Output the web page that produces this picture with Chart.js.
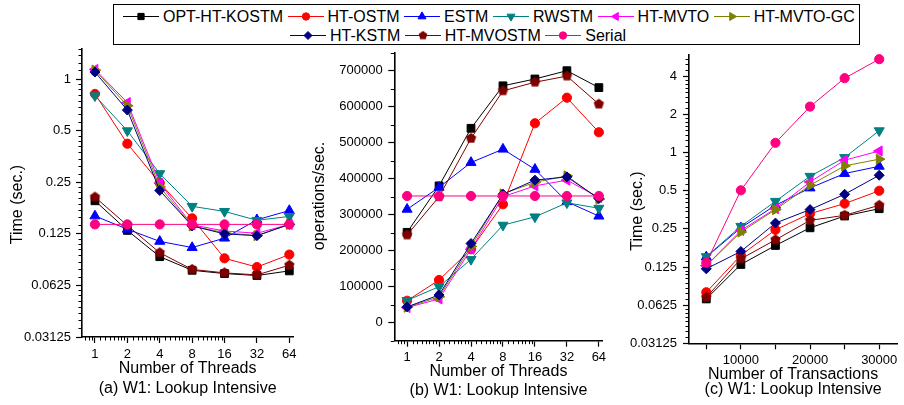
<!DOCTYPE html>
<html><head><meta charset="utf-8">
<script src="https://cdn.jsdelivr.net/npm/chart.js@4/dist/chart.umd.min.js"></script>
<style>
html,body{margin:0;padding:0;background:#fff;}
#wrap{position:relative;width:904px;height:405px;overflow:hidden;font-family:"Liberation Sans",Arial,sans-serif;}
#wrap canvas.c{position:absolute;top:0;}
#legend{position:absolute;left:113px;top:4px;width:745px;height:39px;border:1px solid #000;background:#fff;z-index:2;}
.row{position:absolute;display:flex;align-items:center;height:19px;white-space:nowrap;}
.item{display:flex;align-items:center;margin-right:4.5px;font-size:16px;color:#000;line-height:19px;}
.item canvas{margin-right:4px;display:block;}
</style></head><body>
<div id="wrap">
<canvas id="ca" class="c" width="300" height="405" style="left:0px"></canvas>
<canvas id="cb" class="c" width="310" height="405" style="left:300px"></canvas>
<canvas id="cc" class="c" width="294" height="405" style="left:610px"></canvas>
<div id="legend"><div class="row" id="row1" style="left:9px;top:1.5px"></div><div class="row" id="row2" style="left:176px;top:21px"></div></div>
</div>
<script>
// ---------- categories / tick labels ----------
const threads = [1, 2, 4, 8, 16, 32, 64];
const transactions = [5000, 10000, 15000, 20000, 25000, 30000];
const timeTicks = [0.03125, 0.0625, 0.125, 0.25, 0.5, 1];
const timeTicksC = [0.03125, 0.0625, 0.125, 0.25, 0.5, 1, 2, 4];
const opsTicks = [0, 100000, 200000, 300000, 400000, 500000, 600000, 700000];
const txnTicks = [5000, 10000, 15000, 20000, 25000, 30000];
const names = ['OPT-HT-KOSTM','HT-OSTM','ESTM','RWSTM','HT-MVTO','HT-MVTO-GC','HT-KSTM','HT-MVOSTM','Serial'];

// ---------- (a) time (sec.) vs threads ----------
const a_OPT    = [0.195, 0.131, 0.092, 0.0766, 0.0733, 0.0714, 0.076];
const a_OSTM   = [0.82, 0.42, 0.248, 0.154, 0.090, 0.080, 0.0946];
const a_ESTM   = [0.159, 0.133, 0.113, 0.104, 0.118, 0.151, 0.171];
const a_RWSTM  = [0.80, 0.50, 0.281, 0.181, 0.169, 0.150, 0.158];
const a_MVTO   = [1.14, 0.73, 0.247, 0.141, 0.130, 0.126, 0.142];
const a_MVTOGC = [1.13, 0.70, 0.235, 0.139, 0.127, 0.122, 0.142];
const a_KSTM   = [1.10, 0.66, 0.224, 0.139, 0.125, 0.122, 0.142];
const a_MVOSTM = [0.205, 0.140, 0.097, 0.0775, 0.074, 0.072, 0.082];
const a_Serial = [0.142, 0.142, 0.142, 0.142, 0.142, 0.142, 0.142];

// ---------- (b) operations/sec vs threads ----------
const b_OPT    = [251000, 380000, 540000, 658000, 677000, 700000, 653000];
const b_OSTM   = [61000, 118600, 204000, 329000, 554000, 625000, 529000];
const b_ESTM   = [315000, 376000, 445000, 482000, 426000, 336000, 296000];
const b_RWSTM  = [62000, 100000, 176000, 271000, 294000, 333000, 318000];
const b_MVTO   = [42000, 66000, 204000, 350000, 380000, 396000, 348000];
const b_MVTOGC = [43000, 72000, 212000, 358000, 390000, 408000, 343000];
const b_KSTM   = [44000, 77000, 220000, 357000, 396000, 405000, 345000];
const b_MVOSTM = [243600, 350000, 512000, 644000, 668000, 685000, 607000];
const b_Serial = [352000, 352000, 352000, 352000, 352000, 352000, 352000];

// ---------- (c) time (sec.) vs transactions ----------
const c_OPT    = [0.070, 0.131, 0.185, 0.255, 0.316, 0.361];
const c_OSTM   = [0.079, 0.155, 0.246, 0.330, 0.396, 0.500];
const c_ESTM   = [0.150, 0.255, 0.384, 0.526, 0.684, 0.780];
const c_RWSTM  = [0.151, 0.262, 0.413, 0.651, 0.916, 1.49];
const c_MVTO   = [0.128, 0.243, 0.361, 0.587, 0.872, 1.03];
const c_MVTOGC = [0.128, 0.236, 0.355, 0.553, 0.786, 0.888];
const c_KSTM   = [0.121, 0.166, 0.278, 0.355, 0.469, 0.663];
const c_MVOSTM = [0.072, 0.145, 0.205, 0.292, 0.320, 0.384];
const c_Serial = [0.135, 0.504, 1.196, 2.31, 3.87, 5.47];

// ---------- styles ----------
const colors = ['#000000','#FF0000','#0000FF','#008080','#FF00FF','#808000','#000080','#800000','#FF0080'];
const shapes = ['rect','circle','triangle','triangle','triangle','triangle','rectRot','pentagon','circle'];
const rotations = [0,0,0,180,270,90,0,0,0];
const radii = [5.5,4.6,5.8,5.8,5.8,5.8,5,5,4.6];

const FONT = '"Liberation Sans", Arial, sans-serif';
Chart.defaults.font.family = FONT;
Chart.defaults.color = '#000';

function pentagonCanvas(r, color) {
  const s = Math.ceil(r * 2 + 2);
  const cv = document.createElement('canvas');
  cv.width = s; cv.height = s;
  const g = cv.getContext('2d');
  g.fillStyle = color;
  g.beginPath();
  for (let k = 0; k < 5; k++) {
    const ang = -Math.PI / 2 + k * 2 * Math.PI / 5;
    const px = s / 2 + r * Math.cos(ang), py = s / 2 + r * Math.sin(ang);
    k ? g.lineTo(px, py) : g.moveTo(px, py);
  }
  g.closePath(); g.fill();
  return cv;
}
const pentPlot = pentagonCanvas(5.4, colors[7]);
const pentLegend = pentagonCanvas(4.6, colors[7]);

function styleFor(i, legend) {
  if (shapes[i] === 'pentagon') return legend ? pentLegend : pentPlot;
  return shapes[i];
}

function makeDatasets(xs, arrays) {
  return arrays.map((arr, i) => ({
    label: names[i],
    data: arr.map((v, j) => ({x: xs[j], y: v})),
    borderColor: colors[i],
    backgroundColor: colors[i],
    borderWidth: 1,
    pointStyle: styleFor(i, false),
    pointRotation: rotations[i],
    pointRadius: radii[i],
    pointHoverRadius: radii[i],
    pointBorderWidth: 1,
    pointBorderColor: colors[i],
    pointBackgroundColor: colors[i],
    tension: 0,
    fill: false,
    clip: false,
    order: 8 - i
  }));
}

function log2Minor(lo, hi) {
  const out = [];
  for (let k = -8; k < 4; k++) {
    const base = Math.pow(2, k);
    for (let j = 1; j <= 7; j++) {
      const v = base * (1 + j / 8);
      if (v >= lo - 1e-9 && v <= hi + 1e-9) out.push(v);
    }
  }
  return out;
}

function minorPlugin(axes) {
  return {
    id: 'minorTicks',
    afterDraw(chart) {
      const ctx = chart.ctx;
      ctx.save();
      ctx.strokeStyle = '#000';
      ctx.lineWidth = 1;
      for (const id in axes) {
        const s = chart.scales[id];
        axes[id].forEach(v => {
          if (v < s.min - 1e-9 || v > s.max + 1e-9) return;
          const p = Math.round(s.getPixelForValue(v)) + 0.5;
          ctx.beginPath();
          if (s.isHorizontal()) { ctx.moveTo(p, s.top); ctx.lineTo(p, s.top + 3.5); }
          else { ctx.moveTo(s.right, p); ctx.lineTo(s.right - 3.5, p); }
          ctx.stroke();
        });
      }
      ctx.restore();
    }
  };
}

function yTitlePlugin(text, x, y) {
  return {
    id: 'yTitle',
    afterDraw(chart) {
      const c = chart.ctx;
      c.save();
      c.fillStyle = '#000';
      c.font = '16px ' + FONT;
      c.textAlign = 'center';
      c.textBaseline = 'middle';
      c.translate(x, y);
      c.rotate(-Math.PI / 2);
      c.fillText(text, 0, 0);
      c.restore();
    }
  };
}

const gridOpts = {display: true, drawOnChartArea: false, drawTicks: true, tickLength: 6, tickColor: '#000', tickWidth: 1.2};
const borderOpts = {display: true, color: '#000', width: 1.6};

function xAxis(cfg) {
  return Object.assign({
    bounds: 'data',
    grid: gridOpts,
    border: borderOpts,
    afterBuildTicks: s => { s.ticks = cfg.tickVals.map(v => ({value: v})); },
    afterFit: s => { s.height = cfg.h; s.paddingLeft = 0; s.paddingRight = 0; s.paddingTop = 0; s.paddingBottom = 0; },
    ticks: {autoSkip: false, maxRotation: 0, minRotation: 0, padding: cfg.pad, color: '#000', font: {size: 13}, callback: cfg.cb},
    title: {display: true, text: cfg.title, color: '#000', font: {size: 16, lineHeight: cfg.lh}, padding: {top: 0, bottom: cfg.pb}}
  }, cfg.extra);
}
function yAxis(cfg) {
  return Object.assign({
    bounds: 'data',
    grid: gridOpts,
    border: borderOpts,
    afterBuildTicks: s => { s.ticks = cfg.tickVals.map(v => ({value: v})); },
    afterFit: s => { s.width = cfg.w; s.paddingLeft = 0; s.paddingRight = 0; s.paddingTop = 0; s.paddingBottom = 0; },
    ticks: {autoSkip: false, padding: cfg.pad, color: '#000', font: {size: 13}, callback: v => String(v)},
    title: {display: false}
  }, cfg.extra);
}

const xMinA = Math.pow(2, -0.4), xMaxA = Math.pow(2, 6.12);

// ---------- chart (a) ----------
new Chart(document.getElementById('ca'), {
  type: 'line',
  data: {datasets: makeDatasets(threads, [a_OPT, a_OSTM, a_ESTM, a_RWSTM, a_MVTO, a_MVTOGC, a_KSTM, a_MVOSTM, a_Serial])},
  options: {
    responsive: false, animation: false, events: [],
    layout: {padding: {left: 0, right: 4, top: 49, bottom: 0}},
    plugins: {legend: {display: false}, tooltip: {enabled: false}},
    scales: {
      x: xAxis({tickVals: threads, h: 68, pad: 3.7, cb: v => String(v), title: ['Number of Threads', '(a) W1: Lookup Intensive'], lh: 1.25, pb: 6.5,
        extra: {type: 'logarithmic', min: xMinA, max: xMaxA}}),
      y: yAxis({tickVals: timeTicks, w: 82, pad: 5, extra: {type: 'logarithmic', min: 0.03125, max: 1.5}})
    }
  },
  plugins: [minorPlugin({x: log2Minor(xMinA, xMaxA), y: log2Minor(0.03125, 1.5)}), yTitlePlugin('Time (sec.)', 18, 204.5)]
});

// ---------- chart (b) ----------
const opsMinor = [];
for (let v = -50000; v <= 750000; v += 100000) opsMinor.push(v);
new Chart(document.getElementById('cb'), {
  type: 'line',
  data: {datasets: makeDatasets(threads, [b_OPT, b_OSTM, b_ESTM, b_RWSTM, b_MVTO, b_MVTOGC, b_KSTM, b_MVOSTM, b_Serial])},
  options: {
    responsive: false, animation: false, events: [],
    layout: {padding: {left: 0, right: 7.3, top: 52.7, bottom: 0}},
    plugins: {legend: {display: false}, tooltip: {enabled: false}},
    scales: {
      x: xAxis({tickVals: threads, h: 64.3, pad: 2.7, cb: v => String(v), title: ['Number of Threads', '(b) W1: Lookup Intensive'], lh: 1.2, pb: 4.9,
        extra: {type: 'logarithmic', min: xMinA, max: xMaxA}}),
      y: yAxis({tickVals: opsTicks, w: 94.3, pad: 5.6, extra: {type: 'linear', min: -50000, max: 750000}})
    }
  },
  plugins: [minorPlugin({x: log2Minor(xMinA, xMaxA), y: opsMinor}), yTitlePlugin('operations/sec.', 20, 196)]
});

// ---------- chart (c) ----------
new Chart(document.getElementById('cc'), {
  type: 'line',
  data: {datasets: makeDatasets(transactions, [c_OPT, c_OSTM, c_ESTM, c_RWSTM, c_MVTO, c_MVTOGC, c_KSTM, c_MVOSTM, c_Serial])},
  options: {
    responsive: false, animation: false, events: [],
    layout: {padding: {left: 0, right: 1.3, top: 55, bottom: 0}},
    plugins: {legend: {display: false}, tooltip: {enabled: false}},
    scales: {
      x: xAxis({tickVals: txnTicks, h: 61.7, pad: 2.9, cb: v => (v % 10000 === 0 ? String(v) : ''), title: ['Number of Transactions', '(c) W1: Lookup Intensive'], lh: 0.95, pb: 7.7,
        extra: {type: 'linear', min: 2500, max: 32600}}),
      y: yAxis({tickVals: timeTicksC, w: 79, pad: 6, extra: {type: 'logarithmic', min: 0.03125, max: 5.9}})
    }
  },
  plugins: [minorPlugin({y: log2Minor(0.03125, 5.9)}), yTitlePlugin('Time (sec.)', 28, 211)]
});

// ---------- HTML legend ----------
function drawMarker(g, i, x, y, r) {
  const style = styleFor(i, true);
  g.fillStyle = colors[i]; g.strokeStyle = colors[i]; g.lineWidth = 1;
  if (typeof style === 'object') { g.drawImage(style, x - style.width / 2, y - style.height / 2); return; }
  const rad = rotations[i] * Math.PI / 180;
  g.beginPath();
  if (style === 'circle') { g.arc(x, y, r, 0, Math.PI * 2); }
  else if (style === 'rect') { const s = Math.SQRT1_2 * r; g.rect(x - s, y - s, 2 * s, 2 * s); }
  else if (style === 'rectRot') { g.moveTo(x, y - r); g.lineTo(x + r, y); g.lineTo(x, y + r); g.lineTo(x - r, y); g.closePath(); }
  else if (style === 'triangle') {
    let a = rad;
    g.moveTo(x + Math.sin(a) * r, y - Math.cos(a) * r);
    a += 2 * Math.PI / 3; g.lineTo(x + Math.sin(a) * r, y - Math.cos(a) * r);
    a += 2 * Math.PI / 3; g.lineTo(x + Math.sin(a) * r, y - Math.cos(a) * r);
    g.closePath();
  }
  g.fill(); g.stroke();
}
function addItem(row, i) {
  const it = document.createElement('div'); it.className = 'item';
  const cv = document.createElement('canvas'); cv.width = 36; cv.height = 19;
  const g = cv.getContext('2d');
  g.strokeStyle = colors[i]; g.lineWidth = 1;
  g.beginPath(); g.moveTo(0, 9.5); g.lineTo(36, 9.5); g.stroke();
  drawMarker(g, i, 18, 9.5, radii[i] * 0.8);
  const sp = document.createElement('span'); sp.textContent = names[i];
  it.appendChild(cv); it.appendChild(sp); row.appendChild(it);
}
const r1 = document.getElementById('row1'), r2 = document.getElementById('row2');
[0, 1, 2, 3, 4, 5].forEach(i => addItem(r1, i));
[6, 7, 8].forEach(i => addItem(r2, i));
</script>
</body></html>
